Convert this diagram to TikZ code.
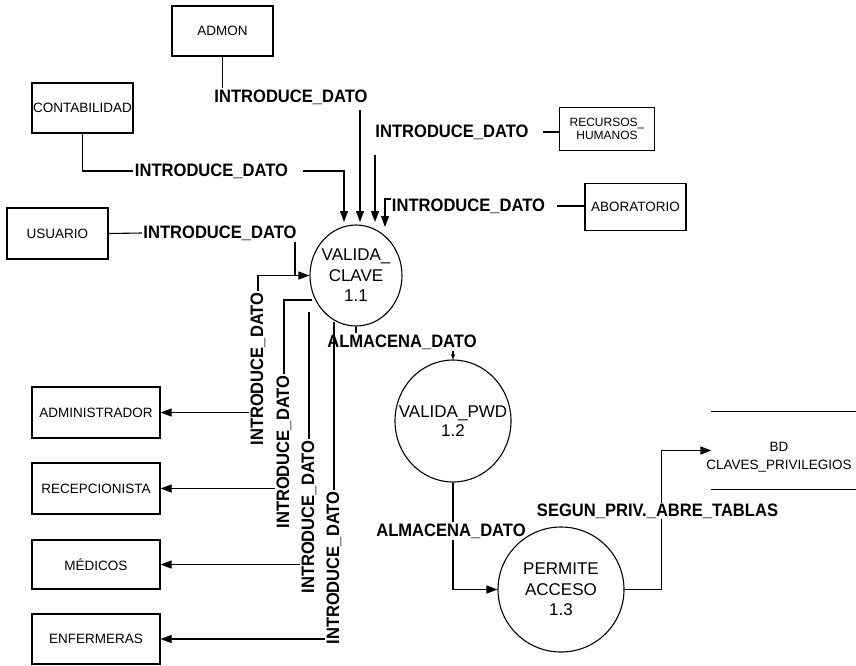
\documentclass[tikz,border=0pt]{standalone}
\usepackage{fontspec}
\setmainfont{Liberation Sans}
\newfontfamily\lblfont[FakeStretch=0.92]{Liberation Sans}
\usetikzlibrary{arrows.meta,shapes.geometric}
\begin{document}
\begin{tikzpicture}[x=1pt,y=-1pt,line width=1.1pt,
 ent/.style={draw,inner sep=0pt,font=\fontsize{13.5}{15}\selectfont,align=center},
 proc/.style={draw,ellipse,inner sep=0pt},
 ptext/.style={align=center,inner sep=0pt,font=\fontsize{17}{20.5}\selectfont},
 flow/.style={inner sep=1pt,font=\lblfont\bfseries\fontsize{18}{20}\selectfont},
 arr/.style={-{Triangle[length=11pt,width=8pt]}},
 sarr/.style={-{Triangle[length=5pt,width=4pt]}}]
\useasboundingbox (0,0) rectangle (856,665);

% external entities
\node[ent,minimum width=101pt,minimum height=50pt] (admon) at (222.5,31) {ADMON};
\node[ent,minimum width=101pt,minimum height=50pt] (conta) at (82.5,108) {CONTABILIDAD};
\node[ent,minimum width=101pt,minimum height=51pt] (usu) at (57.5,233.5) {USUARIO};
\node[ent,minimum width=95pt,minimum height=43pt,font=\fontsize{12}{13.5}\selectfont] (rrhh) at (607,129) {RECURSOS\_\\HUMANOS};
\node[ent,minimum width=101pt,minimum height=47pt] (lab) at (635.5,207) {ABORATORIO};
\node[ent,minimum width=128pt,minimum height=51pt] (adm) at (96,412.5) {ADMINISTRADOR};
\node[ent,minimum width=128pt,minimum height=51pt] (rec) at (96,488.5) {RECEPCIONISTA};
\node[ent,minimum width=128pt,minimum height=49pt] (med) at (96,564.5) {MÉDICOS};
\node[ent,minimum width=128pt,minimum height=50pt] (enf) at (96,639) {ENFERMERAS};

% processes
\node[proc,minimum width=92pt,minimum height=101pt,label={[ptext]center:VALIDA\_\\CLAVE\\1.1}] (c1) at (356,275.5) {};
\node[proc,minimum width=116pt,minimum height=122pt,label={[ptext,font=\fontsize{17}{19}\selectfont]center:VALIDA\_PWD\\1.2}] (c2) at (453,421) {};
\node[proc,minimum width=126pt,minimum height=125pt,label={[ptext]center:PERMITE\\ACCESO\\1.3}] (c3) at (561,589.5) {};

% data store
\node[minimum width=144pt,minimum height=77pt,inner sep=0pt] (bd) at (784,450.5) {};
\node[align=center,inner sep=0pt,font=\fontsize{13.5}{18}\selectfont] (bdt) at (779,457) {BD\\CLAVES\_PRIVILEGIOS};
\draw (bd.north west) -- (bd.north east);
\draw (bd.south west) -- (bd.south east);

% flow labels
\node[flow] (fA) at (291,97) {INTRODUCE\_DATO};
\node[flow] (fC) at (211.5,171) {INTRODUCE\_DATO};
\node[flow] (fU) at (220,233) {INTRODUCE\_DATO};
\node[flow] (fR) at (452,132) {INTRODUCE\_DATO};
\node[flow] (fL) at (468.5,206) {INTRODUCE\_DATO};
\node[flow,rotate=90] (f1) at (258,369) {INTRODUCE\_DATO};
\node[flow,rotate=90] (f2) at (284,452) {INTRODUCE\_DATO};
\node[flow,rotate=90] (f3) at (309,517) {INTRODUCE\_DATO};
\node[flow,rotate=90] (f4) at (334,568) {INTRODUCE\_DATO};
\node[flow] (al1) at (402,342) {ALMACENA\_DATO};
\node[flow] (al2) at (451,531) {ALMACENA\_DATO};

% coordinates
\coordinate (sA) at (360,110);
\coordinate (tA) at (360,222);
\coordinate (sC) at (303,171);
\coordinate (tC) at (344,222);
\coordinate (jU) at (295,276);
\coordinate (sR) at (375,155);
\coordinate (tR) at (375,222);
\coordinate (eR) at (543,132);
\coordinate (hL) at (391,199);
\coordinate (tL) at (385,227);
\coordinate (eL) at (557,206);
\coordinate (s1) at (312,300);
\coordinate (s2) at (309,312);
\coordinate (s3) at (334,322);

% flows into VALIDA_CLAVE
\draw (admon.south) -- (admon.south |- fA.north);
\draw[arr] (sA) -- (tA);
\draw (conta.south) |- (fC.west);
\draw[arr] (sC) -| (tC);
\draw (usu.east) -- (fU.west);
\draw (fU.south -| jU) -- (jU);
\draw (eR) -- (rrhh.west |- eR);
\draw[arr] (sR) -- (tR);
\draw (eL) -- (lab.west |- eL);
\draw[arr] (hL) -| (tL);
\draw[arr] (f1.east) |- (c1.west);

% flows out to the left
\draw[arr] (f1.north |- adm.east) -- (adm.east);
\draw (s1) -| (f2.east);
\draw[arr] (f2.north |- rec.east) -- (rec.east);
\draw (s2) -- (f3.east);
\draw[arr] (f3.north |- med.east) -- (med.east);
\draw (s3) -- (f4.east);
\draw[arr] (f4.north |- enf.east) -- (enf.east);

% lower flows
\draw (c1.south) -- (c1.south |- al1.north);
\draw[sarr] (al1.south -| c2.north) -- (c2.north);
\draw (c2.south) -- (c2.south |- al2.north);
\draw[arr] (c2.south |- al2.south) |- (c3.west);
\draw[arr] (c3.east) -- ++(37,0) |- (bd.west);
\node[flow,fill=white] (fS) at (657.5,511) {SEGUN\_PRIV.\_ABRE\_TABLAS};
\end{tikzpicture}
\end{document}
